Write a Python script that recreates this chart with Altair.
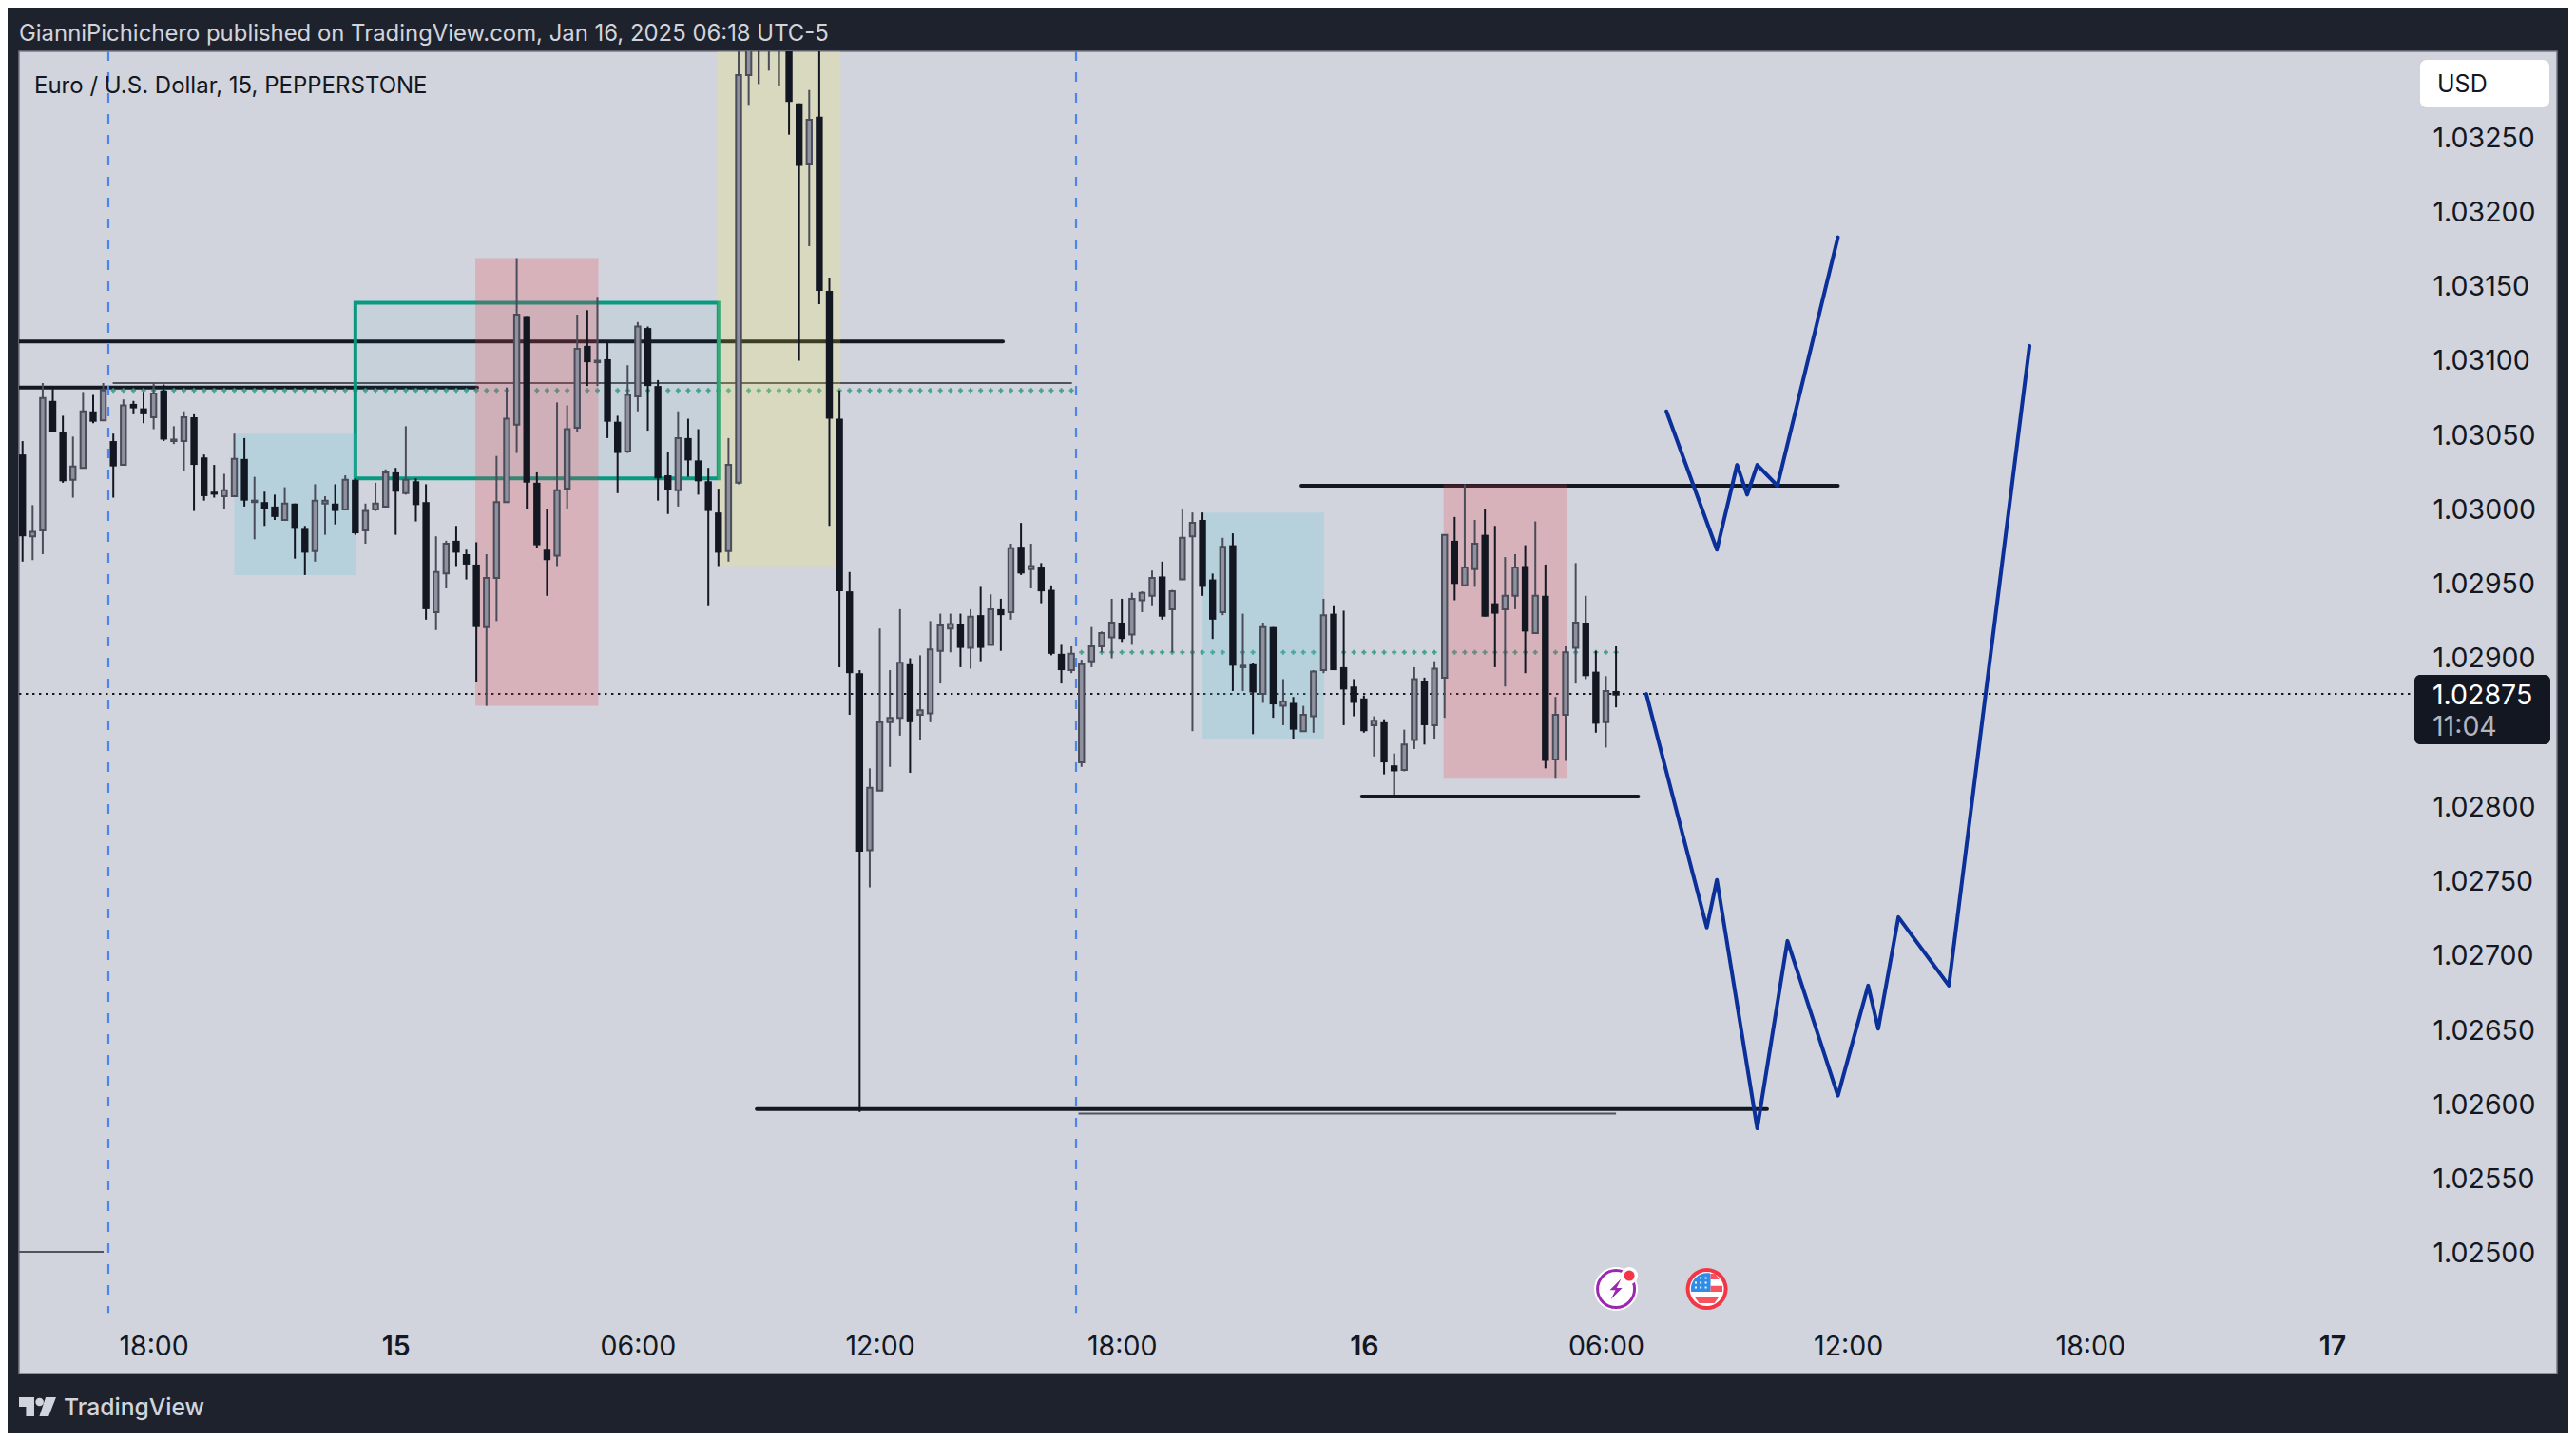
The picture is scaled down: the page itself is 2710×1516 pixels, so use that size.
import altair as alt
import pandas as pd

# prices in points (1 point = 0.00001)
opens = [103036,102981,102985,103072,103051,103019,103027,103065,103059,103045,
103029,103070,103067,103061,103079,103045,103045,103061,103034,103011,
103008,103008,103033,103004,103004,103001,102992,103003,102986,102971,
103003,103003,102999,103019,102985,102999,103001,103024,103010,103018,
103004,102930,102956,102978,102969,102962,102920,102953,103004,103056,
103129,103017,102972,102968,103013,103054,103109,103098,103100,103058,
103038,103075,103121,103082,103022,103012,103047,103032,103018,102997,
102971,103017,103291,103335,103320,103335,103330,103272,103231,103263,
103146,103060,102944,102889,102770,102810,102856,102859,102895,102861,
102862,102904,102919,102922,102906,102928,102908,102932,102930,102974,
102959,102960,102945,102902,102891,102829,102897,102907,102913,102923,
102915,102938,102941,102954,102932,102952,102981,102992,102952,102930,
102975,102893,102895,102875,102920,102867,102869,102850,102860,102891,
102929,102893,102880,102872,102854,102856,102827,102824,102844,102884,
102854,102886,102978,102948,102959,102982,102936,102932,102941,102961,
102916,102941,102831,102861,102906,102923,102890,102856,102877]
closes = [102981,102984,103074,103051,103018,103028,103065,103058,103079,103028,
103069,103067,103063,103077,103046,103046,103061,103029,103008,103009,
103012,103033,103005,103005,102999,102994,103003,102986,102970,103005,
103005,102998,103019,102983,102998,103003,103024,103011,103019,103002,
102932,102957,102976,102970,102962,102920,102953,103004,103060,103130,
103017,102975,102965,103012,103053,103107,103098,103099,103058,103037,
103076,103122,103082,103020,103012,103047,103032,103018,102998,102970,
103029,103291,103325,103315,103340,103315,103273,103230,103261,103146,
103060,102944,102889,102769,102812,102856,102859,102896,102856,102864,
102905,102921,102922,102906,102927,102906,102932,102928,102973,102956,
102961,102944,102902,102891,102902,102895,102907,102916,102923,102912,
102939,102943,102953,102927,102944,102980,102990,102947,102925,102974,
102894,102894,102876,102920,102868,102870,102851,102861,102890,102928,
102891,102878,102869,102850,102857,102829,102823,102841,102885,102854,
102892,102982,102949,102960,102976,102927,102929,102941,102960,102917,
102941,102830,102861,102903,102923,102887,102855,102877,102874]
highs = [103045,103002,103084,103080,103062,103048,103078,103076,103084,103050,
103073,103072,103078,103084,103083,103055,103065,103063,103036,103029,
103023,103050,103047,103021,103011,103009,103014,103003,102988,103016,
103008,103016,103022,103020,103003,103017,103026,103027,103055,103020,
103016,102981,102978,102988,102972,102977,102969,103035,103081,103168,
103129,103024,102999,103071,103069,103130,103133,103142,103112,103062,
103096,103125,103122,103086,103038,103065,103060,103053,103027,103013,
103047,103330,103340,103345,103350,103345,103340,103272,103281,103330,
103155,103079,102957,102891,102825,102919,102891,102932,102899,102901,
102924,102929,102929,102929,102932,102947,102942,102939,102976,102990,
102976,102963,102948,102908,102907,102898,102920,102917,102939,102939,
102943,102944,102958,102964,102945,102999,102997,102997,102956,102980,
102983,102929,102896,102923,102920,102885,102873,102867,102891,102939,
102934,102931,102885,102874,102860,102858,102835,102851,102893,102886,
102897,102982,102994,103016,102992,102999,102988,102967,102969,102975,
102991,102962,102873,102907,102963,102941,102904,102887,102907]
lows = [102964,102965,102969,103051,103017,103007,103027,103057,103059,103007,
103029,103063,103057,103053,103045,103043,103025,102998,103005,103007,
102999,103008,103001,102979,102988,102992,102992,102966,102955,102964,
102982,102989,102999,102982,102976,102998,103001,102982,103009,102991,
102925,102918,102946,102961,102952,102883,102867,102924,103004,103037,
102999,102973,102941,102961,102999,103051,103082,103082,103047,103010,
103037,103065,103052,103005,102996,103001,103021,103009,102934,102961,
102964,103016,103271,103285,103294,103284,103251,103099,103176,103137,
102988,102893,102861,102594,102745,102810,102826,102847,102822,102844,
102856,102882,102903,102893,102892,102897,102908,102904,102925,102955,
102946,102936,102901,102882,102889,102826,102893,102903,102899,102910,
102908,102930,102934,102925,102903,102952,102850,102941,102912,102928,
102877,102877,102848,102869,102859,102854,102845,102850,102849,102889,
102891,102854,102860,102849,102833,102821,102806,102823,102838,102841,
102845,102859,102938,102948,102947,102927,102893,102880,102932,102889,
102916,102825,102818,102830,102882,102885,102849,102839,102866]

y_ticks = [1.025, 1.0255, 1.026, 1.0265, 1.027, 1.0275, 1.028, 1.0285, 1.029, 1.0295,
           1.03, 1.0305, 1.031, 1.0315, 1.032, 1.0325]
x_ticks = [13, 37, 61, 85, 109, 133, 157, 181, 205, 229]
x_labels = ["18:00", "15", "06:00", "12:00", "18:00", "16", "06:00", "12:00", "18:00", "17"]
day_ticks = [37, 133, 229]

# zones: bar start, bar end, price top, price bottom
blue_x0, blue_x1, blue_p0, blue_p1 = [21, 117], [33.1, 129.05], [103050, 102997], [102955, 102845]
pink_x0, pink_x1, pink_p0, pink_p1 = [44.9, 140.9], [57.1, 153.1], [103168, 103016], [102867, 102818]
yellow_x0, yellow_x1, yellow_p0, yellow_p1 = [68.9], [81.1], [103400], [102961]
box_x0, box_x1, box_p0, box_p1 = [33.0], [69.0], [103138], [103020]

# horizontal levels
lvl_p = [103112, 103081, 103015, 102806, 102596]
lvl_x0 = [-0.35, -0.35, 126.8, 132.8, 72.8]
lvl_x1 = [97.2, 45.08, 180.0, 160.2, 172.97]
thin_p = [103084, 102593, 102500]
thin_x0 = [8.94, 104.7, -0.35]
thin_x1 = [104.05, 158.0, 8.04]
sess_x = [8.51, 104.46]
last_price = 102875

# dotted indicator levels
dot_a_bars, dot_a_price = list(range(9, 105)), 103079
dot_b_bars, dot_b_price = list(range(105, 159)), 102903

# projected paths
path1_x = [163, 168, 170, 171, 172, 174, 180]
path1_p = [103065, 102972, 103029, 103009, 103029, 103015, 103182]
path2_x = [161, 167, 168, 172, 175, 180, 183, 184, 186, 191, 199]
path2_p = [102875, 102718, 102750, 102583, 102709, 102605, 102679, 102650, 102725, 102679, 103109]

event_bars = [158, 167]
event_price = 102475

INK = "#131722"
FONT = "Inter"
P = 100000.0

X_DOM = [-0.349, 251.3]
Y_DOM = [1.024182, 1.03307]
xs = alt.Scale(domain=X_DOM, nice=False, zero=False, padding=0)
ys = alt.Scale(domain=Y_DOM, nice=False, zero=False, padding=0)

label_expr = "{" + ",".join(f"'{t}':'{l}'" for t, l in zip(x_ticks, x_labels)) + "}[datum.value]"
day_test = "indexof(" + str(day_ticks) + ",datum.value)>=0"

x_axis = alt.Axis(values=x_ticks, labelExpr=label_expr, orient="bottom", offset=-42.5, domain=False,
                  ticks=False, grid=False, labelFont=FONT, labelFontSize=28.5, labelColor=INK,
                  labelOverlap=False, labelFlush=False, labelBound=False, labelPadding=0, labelBaseline="top",
                  labelFontWeight={"condition": {"test": day_test, "value": 600}, "value": 400})
y_axis = alt.Axis(values=y_ticks, format=".5f", orient="right", offset=-131, domain=False, ticks=False,
                  grid=False, labelFont=FONT, labelFontSize=28.5, labelColor=INK, labelOverlap=False,
                  labelFlush=False, labelBound=False, labelPadding=0, labelAlign="left", labelBaseline="middle",
                  labelOffset=2)


def X(f="x"):
    return alt.X(f"{f}:Q", scale=xs, axis=x_axis, title=None)


def Y(f="y"):
    return alt.Y(f"{f}:Q", scale=ys, axis=y_axis, title=None)


def segs(x0, x1, p):
    return pd.DataFrame({"x": x0, "x2": x1, "y": [v / P for v in p]})


def zone(x0, x1, p0, p1, color, op, **kw):
    d = pd.DataFrame({"x": x0, "x2": x1, "y": [v / P for v in p0], "y2": [v / P for v in p1]})
    return alt.Chart(d).mark_rect(color=color, opacity=op, clip=True, **kw).encode(
        x=X(), x2="x2:Q", y=Y(), y2="y2:Q")


levels = alt.Chart(segs(lvl_x0, lvl_x1, lvl_p)).mark_rule(color=INK, strokeWidth=4, strokeCap="round", clip=True).encode(
    x=X(), x2="x2:Q", y=Y())
thin = alt.Chart(segs(thin_x0, thin_x1, thin_p)).mark_rule(color="#50535e", strokeWidth=2, clip=True).encode(
    x=X(), x2="x2:Q", y=Y())
price_line = alt.Chart(segs([-0.349], [237], [last_price])).mark_rule(
    color=INK, strokeWidth=2, strokeDash=[2.4, 4.6], clip=True).encode(x=X(), x2="x2:Q", y=Y())
sess = alt.Chart(pd.DataFrame({"x": sess_x, "y": [Y_DOM[1]] * 2, "y2": [1.02459] * 2})).mark_rule(
    color="#4d85e8", strokeWidth=2.2, strokeDash=[10, 12], clip=True).encode(x=X(), y=Y(), y2="y2:Q")
dots = alt.Chart(pd.DataFrame({"x": dot_a_bars + dot_b_bars,
                               "y": [dot_a_price / P] * len(dot_a_bars) + [dot_b_price / P] * len(dot_b_bars)})
                 ).mark_point(shape="cross", filled=True, size=25, color="#3f9c8a", opacity=0.95, clip=True).encode(
    x=X(), y=Y())

box = alt.Chart(pd.DataFrame({"x": box_x0, "x2": box_x1, "y": [v / P for v in box_p0], "y2": [v / P for v in box_p1]})
                ).mark_rect(fill="#1d98b4", fillOpacity=0.05, stroke="#089981", strokeWidth=4, clip=True).encode(
    x=X(), x2="x2:Q", y=Y(), y2="y2:Q")
blue = zone(blue_x0, blue_x1, blue_p0, blue_p1, "#4fcadc", 0.2)
pink = zone(pink_x0, pink_x1, pink_p0, pink_p1, "#ec394a", 0.22)
yellow = zone(yellow_x0, yellow_x1, yellow_p0, yellow_p1, "#fff53b", 0.18)

df = pd.DataFrame({"x": range(len(opens)), "o": opens, "h": highs, "l": lows, "c": closes})
for col in "ohlc":
    df[col] = df[col] / P
up = df[df.c > df.o]
dn = df[df.c <= df.o]

wick_up = alt.Chart(up).mark_rule(color="#4a4c59", strokeWidth=2, clip=True).encode(x=X(), y=Y("l"), y2="h:Q")
wick_dn = alt.Chart(dn).mark_rule(color=INK, strokeWidth=2, clip=True).encode(x=X(), y=Y("l"), y2="h:Q")
body_up = alt.Chart(up).mark_bar(size=5.4, fill="#8f929e", stroke="#4a4c59", strokeWidth=2, clip=True).encode(
    x=X(), y=Y("o"), y2="c:Q")
body_dn = alt.Chart(dn).mark_bar(size=7.4, fill=INK, stroke=INK, strokeWidth=0, clip=True).encode(
    x=X(), y=Y("o"), y2="c:Q")


def path_layer(xv, pv):
    d = pd.DataFrame({"x": xv, "y": [v / P for v in pv], "k": range(len(xv))})
    return alt.Chart(d).mark_line(color="#0b3099", strokeWidth=4, strokeJoin="round", strokeCap="round",
                                  clip=True).encode(x=X(), y=Y(), order="k:Q")


def event(i, shape, size, color=None, stroke=None, sw=0, dx=0, dy=0):
    d = pd.DataFrame({"x": [event_bars[i]], "y": [event_price / P]})
    kw = dict(shape=shape, size=size, opacity=1, xOffset=dx, yOffset=dy)
    if color:
        kw.update(filled=True, fill=color)
    else:
        kw.update(filled=False, fill="transparent")
    if stroke:
        kw.update(stroke=stroke, strokeWidth=sw)
    else:
        kw.update(strokeWidth=0)
    return alt.Chart(d).mark_point(**kw).encode(x=X(), y=Y())


BOLT = "M.45 -.9 L-.55 .1 H-.05 L-.45 .9 L.55 -.1 H.05 Z"
BLUEQ = "M-.82 .15 A.84 .84 0 0 1 .2 -.82 L.2 .15 Z"
STRIPES = "M.2 -.17 H.82 V.15 H.2 Z M-.62 .45 H.62 L.4 .74 H-.4 Z M.2 -.8 H.45 L.66 -.5 H.2 Z"
STARS = " ".join(f"M{u} {v} h.1 v.1 h-.1 Z" for u, v in
                 [(-.37, -.63), (-.1, -.63), (-.63, -.38), (-.37, -.38), (-.1, -.38),
                  (-.63, -.13), (-.37, -.13), (-.1, -.13)])
LOGO = ("M-1 -.51 H-.18 V.51 H-.62 V0 H-1 Z M-.11 -.26 A.22 .22 0 1 0 .33 -.26 A.22 .22 0 1 0 -.11 -.26 Z "
        "M.44 -.51 H1 L.6 .51 H.1 Z")

icons = [
    event(0, "circle", 46**2, color="white"),
    event(0, "circle", 39**2, stroke="#9c27b0", sw=3),
    event(0, BOLT, 24**2, color="#9c27b0"),
    event(0, "circle", 18**2, color="white", dx=14, dy=-14),
    event(0, "circle", 11**2, color="#f23645", dx=14, dy=-14),
    event(1, "circle", 44**2, color="#f23645"),
    event(1, "circle", 36**2, color="white"),
    event(1, BLUEQ, 40**2, color="#2f8de8"),
    event(1, STRIPES, 40**2, color="#f7525f"),
    event(1, STARS, 40**2, color="white"),
]


def text(s, x, y, size=24, color=INK, weight=400, align="left", font=FONT):
    return alt.Chart(pd.DataFrame({"t": [s]})).mark_text(
        font=font, fontSize=size, color=color, fontWeight=weight, align=align, baseline="middle"
    ).encode(x=alt.value(x - 20), y=alt.value(y - 54), text="t:N")


def box_px(x0, x1, y0, y1, color, r):
    return alt.Chart(pd.DataFrame({"a": [1]})).mark_rect(color=color, cornerRadius=r).encode(
        x=alt.value(x0 - 20), x2=alt.value(x1 - 20), y=alt.value(y0 - 54), y2=alt.value(y1 - 54))


logo = alt.Chart(pd.DataFrame({"a": [1]})).mark_point(
    shape=LOGO, size=39**2, filled=True, fill="#d1d4dc", strokeWidth=0, opacity=1
).encode(x=alt.value(39.5 - 20), y=alt.value(1480 - 54))

chart = alt.layer(
    levels, thin, price_line, sess, dots, box, blue, pink, yellow,
    wick_up, wick_dn, body_up, body_dn,
    path_layer(path1_x, path1_p), path_layer(path2_x, path2_p),
    *icons,
    box_px(2546, 2682, 63, 113, "white", 7),
    text("USD", 2564, 88.5, size=25),
    box_px(2540, 2683, 710, 783, INK, 6),
    text("1.02875", 2559, 731.5, size=28.5, color="white"),
    text("11:04", 2559, 764.5, size=28.5, color="#b2b5be"),
    text("Euro / U.S. Dollar, 15, PEPPERSTONE", 36, 91, size=24),
    text("GianniPichichero published on TradingView.com, Jan 16, 2025 06:18 UTC-5", 20, 36, size=23.9, color="#d1d4dc"),
    text("TradingView", 67, 1481.5, size=24.7, color="#d1d4dc", weight=500),
    logo,
).properties(
    width=2670, height=1391,
    background="#1e222d",
    padding={"left": 12, "top": 46, "right": 12, "bottom": 63},
    autosize=alt.AutoSizeParams(type="none"),
).configure_view(fill="#d1d4dc", stroke="#787b86", strokeWidth=1.5)

chart.save("out.html", embed_options={"renderer": "svg", "actions": False})
